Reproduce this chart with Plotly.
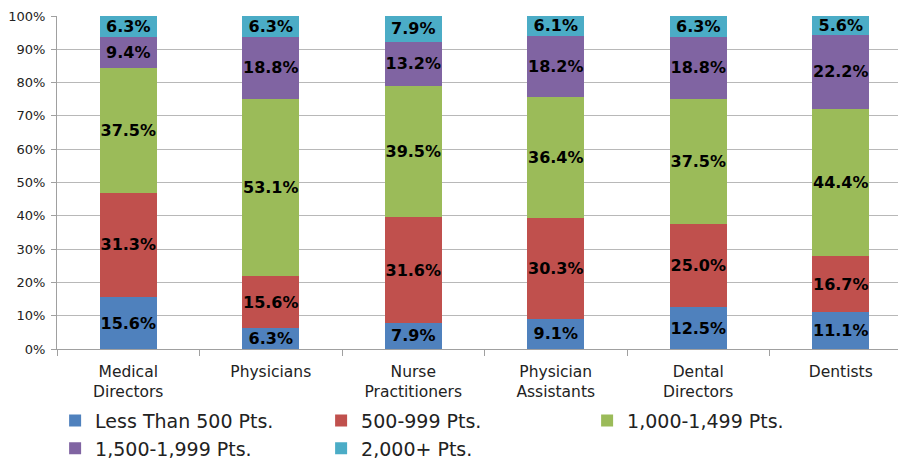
import plotly.graph_objects as go

categories = ["Medical<br>Directors", "Physicians", "Nurse<br>Practitioners",
              "Physician<br>Assistants", "Dental<br>Directors", "Dentists"]

less_500 = [15.6, 6.3, 7.9, 9.1, 12.5, 11.1]
pts_500_999 = [31.3, 15.6, 31.6, 30.3, 25.0, 16.7]
pts_1000_1499 = [37.5, 53.1, 39.5, 36.4, 37.5, 44.4]
pts_1500_1999 = [9.4, 18.8, 13.2, 18.2, 18.8, 22.2]
pts_2000_plus = [6.3, 6.3, 7.9, 6.1, 6.3, 5.6]

series = [
    ("Less Than 500 Pts.", less_500, "#4F81BD"),
    ("500-999 Pts.", pts_500_999, "#C0504D"),
    ("1,000-1,499 Pts.", pts_1000_1499, "#9BBB59"),
    ("1,500-1,999 Pts.", pts_1500_1999, "#8064A2"),
    ("2,000+ Pts.", pts_2000_plus, "#4BACC6"),
]

fig = go.Figure()
for name, vals, color in series:
    fig.add_trace(go.Bar(
        x=categories, y=vals, name=name,
        marker=dict(color=color, line=dict(width=0)),
        text=["{0:.1f}%".format(v) for v in vals],
        textposition="inside", insidetextanchor="middle",
        textangle=0,
        textfont=dict(family="DejaVu Sans", size=16, color="black", weight="bold"),
        width=0.4,
    ))

# the page body adds an 8px offset, so margins are shifted to compensate
fig.update_layout(
    barmode="stack",
    width=906, height=462,
    margin=dict(l=49, r=2, t=8, b=121),
    paper_bgcolor="white", plot_bgcolor="white",
    font=dict(family="DejaVu Sans", color="#222222"),
    uniformtext=dict(minsize=15, mode="show"),
    showlegend=True,
    legend=dict(
        orientation="h", x=0.052, y=0.148, xanchor="left", yanchor="top",
        xref="container", yref="container",
        entrywidth=221, entrywidthmode="pixels",
        font=dict(family="DejaVu Sans", size=19, color="#222222"),
        traceorder="normal", itemclick=False,
        tracegroupgap=0,
    ),
)

fig.update_xaxes(
    range=[-0.5, 5.5], automargin=False,
    showline=True, linecolor="#a0a0a0", linewidth=1,
    ticks="outside", tickson="boundaries", ticklen=6, tickcolor="#a0a0a0",
    ticklabelstandoff=8,
    tickfont=dict(family="DejaVu Sans", size=15.5, color="#222222"),
    showgrid=False,
)
fig.update_yaxes(
    range=[0, 100], dtick=10, ticksuffix="%", automargin=False,
    showline=True, linecolor="#a0a0a0", linewidth=1,
    ticks="outside", ticklen=5, tickcolor="#a0a0a0",
    ticklabelstandoff=3, ticklabeloverflow="allow",
    tickfont=dict(family="DejaVu Sans", size=13, color="#222222"),
    showgrid=True, gridcolor="#b8b8b8", gridwidth=1,
    zeroline=False,
)

fig.write_html("out.html")
